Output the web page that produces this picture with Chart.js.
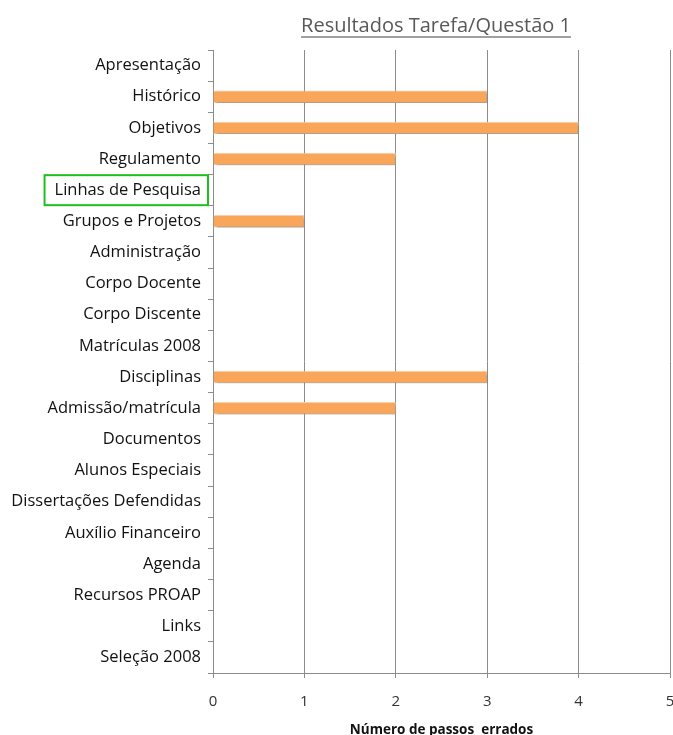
<!DOCTYPE html>
<html><head><meta charset="utf-8">
<script src="https://cdn.jsdelivr.net/npm/chart.js@4/dist/chart.umd.min.js"></script>
<style>html,body{margin:0;padding:0;background:#fff}#wrap{width:673px;height:735px;position:relative}</style>
</head><body><div id="wrap"><canvas id="c"></canvas></div>
<script>
const categories = ["Apresentação","Histórico","Objetivos","Regulamento","Linhas de Pesquisa","Grupos e Projetos","Administração","Corpo Docente","Corpo Discente","Matrículas 2008","Disciplinas","Admissão/matrícula","Documentos","Alunos Especiais","Dissertações Defendidas","Auxílio Financeiro","Agenda","Recursos PROAP","Links","Seleção 2008"];
const wrongSteps = [0,3,4,2,0,1,0,0,0,0,3,2,0,0,0,0,0,0,0,0];
const xTicks = [0,1,2,3,4,5];
const titleText = "Resultados Tarefa/Questão 1";
const xTitle = "Número de passos  errados";
const highlighted = "Linhas de Pesquisa";

const LABEL_SIZE = 16.5;
const LABEL_FONT = LABEL_SIZE + "px 'Open Sans'";
const extras = {
  id:'extras',
  beforeDatasetsDraw(chart){
    const ctx = chart.ctx; ctx.save();
    ctx.shadowColor='rgba(0,0,0,0.35)'; ctx.shadowBlur=3; ctx.shadowOffsetX=2; ctx.shadowOffsetY=2;
  },
  afterDatasetsDraw(chart){ chart.ctx.restore(); },
  afterDraw(chart){
    const ctx = chart.ctx;
    ctx.save();
    ctx.font = "20px 'Open Sans'";
    ctx.fillStyle = '#595959';
    ctx.textAlign='center'; ctx.textBaseline='alphabetic';
    const tx = 436, ty = 32;
    ctx.fillText(titleText, tx, ty);
    const w = ctx.measureText(titleText).width;
    ctx.strokeStyle='#7f7f7f'; ctx.lineWidth=1.5;
    ctx.beginPath(); ctx.moveTo(tx-w/2, ty+5); ctx.lineTo(tx+w/2, ty+5); ctx.stroke();
    // highlight box
    const ys = chart.scales.y;
    const idx = categories.indexOf(highlighted);
    const cy = ys.getPixelForValue(idx);
    ctx.font = LABEL_FONT;
    const lw = ctx.measureText(highlighted).width;
    const right = chart.chartArea.left - 5;
    const labelRight = chart.chartArea.left - 12;
    const left = labelRight - lw - 10;
    ctx.strokeStyle = '#1fbf1f'; ctx.lineWidth = 2;
    ctx.strokeRect(left, cy-15, right-left, 30);
    ctx.restore();
  }
};

new Chart(document.getElementById('c'), {
  type:'bar',
  data:{ labels:categories, datasets:[{ data:wrongSteps, backgroundColor:'#f9a65a', borderColor:'#fcd3ab', borderWidth:1, barPercentage:0.8, categoryPercentage:0.5 }]},
  options:{
    indexAxis:'y', responsive:true, maintainAspectRatio:false, animation:false,
    layout:{ padding:{ top:50, right:3, left:0, bottom:0 } },
    plugins:{ legend:{display:false}, tooltip:{enabled:false}, title:{display:false} },
    scales:{
      x:{ min:0, max:5,
        afterBuildTicks(s){ s.ticks = xTicks.map(v=>({value:v})); },
        grid:{ color:'#8c8c8c', lineWidth:1, tickLength:5, drawTicks:true },
        border:{ display:true, color:'#8c8c8c' },
        ticks:{ color:'#333', font:{family:'Open Sans', size:15}, padding:15, maxRotation:0, minRotation:0, autoSkip:false },
        title:{ display:true, text:xTitle, color:'#111', font:{family:'Open Sans', size:13.5, weight:'bold'}, padding:{top:0,bottom:-3} },
        afterFit(s){ s.height = 62; s.paddingLeft = 0; s.paddingRight = 0; }
      },
      y:{ grid:{ drawOnChartArea:false, drawTicks:true, tickLength:5, color:'#8c8c8c', offset:true },
        border:{ display:true, color:'#8c8c8c' },
        ticks:{ color:'#111', font:{family:'Open Sans', size:LABEL_SIZE}, padding:7, autoSkip:false },
        afterFit(s){ s.width = 213; s.paddingTop = 0; s.paddingBottom = 0; }
      }
    }
  },
  plugins:[extras]
});
</script></body></html>
